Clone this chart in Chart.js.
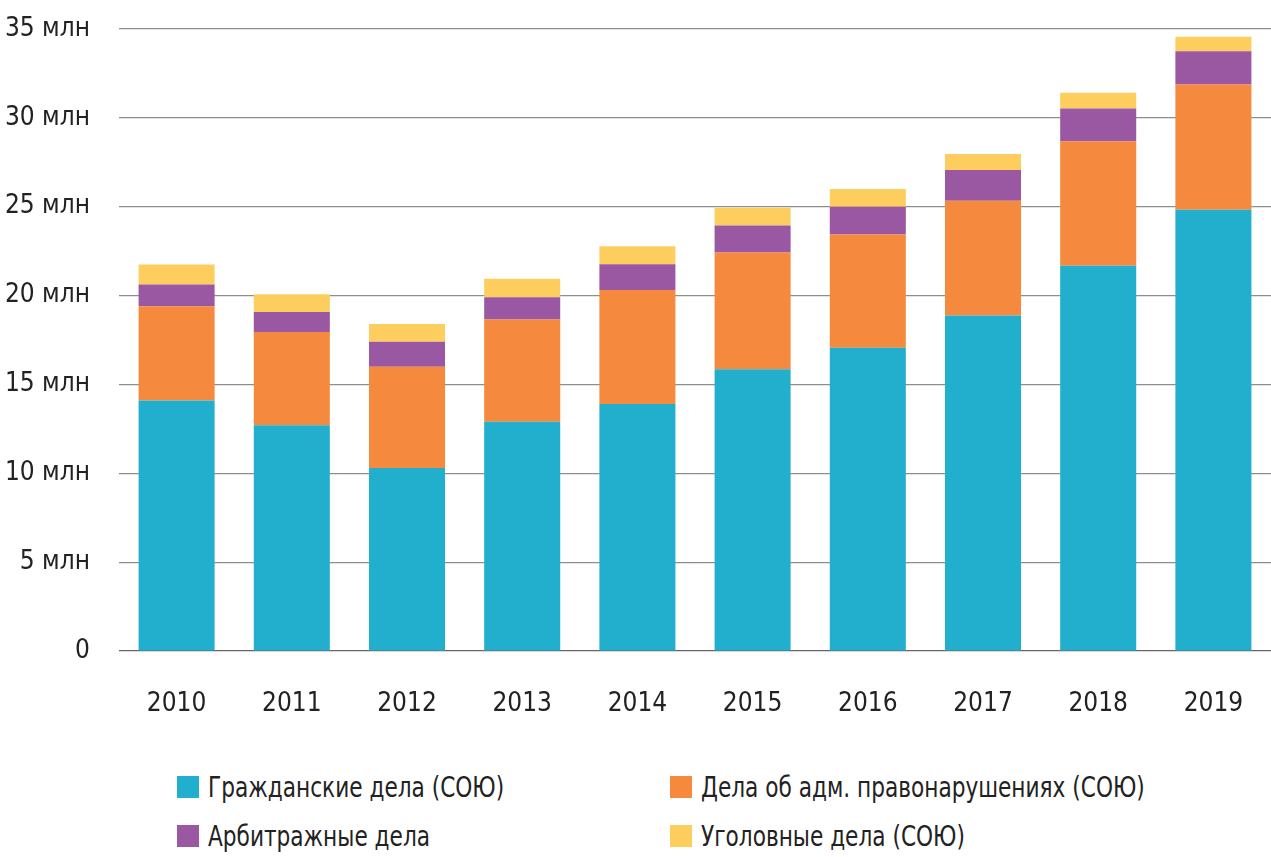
<!DOCTYPE html>
<html lang="ru">
<head>
    <meta charset="UTF-8">
    <title>Дела по годам</title>
    <style>
        body {
            margin: 0;
            padding: 0;
            background: #fff;
            font-family: 'Liberation Sans Narrow', 'DejaVu Sans Condensed', Roboto, sans-serif;
            overflow: hidden;
        }
        .wrap {
            position: relative;
            width: 1271px;
            height: 857px;
        }
        .chart-box {
            position: absolute;
            left: 0;
            top: 0;
            width: 1271px;
            height: 741px;
        }
        #legend {
            position: absolute;
            left: 177px;
            top: 773px;
            width: 1090px;
            display: grid;
            grid-template-columns: 493px auto;
            row-gap: 21px;
            color: #222;
            font-size: 29px;
            font-stretch: condensed;
        }
        #legend .item {
            display: flex;
            align-items: center;
            height: 28px;
            white-space: nowrap;
        }
        #legend .box {
            width: 22px;
            height: 22px;
            margin-right: 9px;
            flex: none;
        }
        #legend .txt {
            display: inline-block;
            transform: scaleX(0.83);
            transform-origin: left center;
        }
    </style>
</head>
<body>
<div class="wrap">
    <div class="chart-box"><canvas id="chart"></canvas></div>
    <div id="legend"></div>
</div>
<script src="https://cdn.jsdelivr.net/npm/chart.js@4/dist/chart.umd.min.js"></script>
<script>
    const years = ['2010', '2011', '2012', '2013', '2014', '2015', '2016', '2017', '2018', '2019'];
    // млн дел
    const civil = [14.1, 12.7, 10.3, 12.9, 13.9, 15.85, 17.07, 18.88, 21.68, 24.83];
    const admin = [5.3, 5.25, 5.7, 5.75, 6.42, 6.58, 6.37, 6.46, 7.0, 7.05];
    const arbitr = [1.23, 1.12, 1.4, 1.25, 1.44, 1.51, 1.56, 1.73, 1.84, 1.87];
    const criminal = [1.12, 1.0, 1.0, 1.04, 1.01, 1.0, 1.0, 0.89, 0.89, 0.82];
    const seriesNames = ['Гражданские дела (СОЮ)', 'Дела об адм. правонарушениях (СОЮ)', 'Арбитражные дела', 'Уголовные дела (СОЮ)'];
    const yTicks = [0, 5, 10, 15, 20, 25, 30, 35];

    const colors = ['#21afcd', '#f5893d', '#9a57a2', '#fdce5d'];
    const fontFamily = "'Liberation Sans Narrow', 'DejaVu Sans Condensed', Roboto, sans-serif";

    const htmlLegend = {
        id: 'htmlLegend',
        afterUpdate(chart) {
            const box = document.getElementById('legend');
            box.innerHTML = '';
            chart.data.datasets.forEach(ds => {
                const item = document.createElement('div');
                item.className = 'item';
                const sw = document.createElement('span');
                sw.className = 'box';
                sw.style.background = ds.backgroundColor;
                const txt = document.createElement('span');
                txt.className = 'txt';
                txt.textContent = ds.label;
                item.appendChild(sw);
                item.appendChild(txt);
                box.appendChild(item);
            });
        }
    };

    // узкий шрифт для подписей осей, если есть
    const narrowText = {
        id: 'narrowText',
        beforeDraw(chart) {
            chart.ctx.fontStretch = 'condensed';
        }
    };

    const ctx = document.getElementById('chart').getContext('2d');
    new Chart(ctx, {
        type: 'bar',
        data: {
            labels: years,
            datasets: [civil, admin, arbitr, criminal].map((d, i) => ({
                label: seriesNames[i],
                data: d,
                backgroundColor: colors[i],
                borderWidth: 0,
                categoryPercentage: 0.66,
                barPercentage: 1
            }))
        },
        options: {
            responsive: true,
            maintainAspectRatio: false,
            animation: false,
            layout: {
                padding: { top: 29, right: 0, bottom: 0, left: 0 }
            },
            plugins: {
                legend: { display: false },
                tooltip: { enabled: false }
            },
            scales: {
                x: {
                    stacked: true,
                    grid: { display: false, drawTicks: false },
                    border: { display: false },
                    afterFit(scale) {
                        scale.height = 90;
                        scale.paddingLeft = 0;
                        scale.paddingRight = 0;
                    },
                    ticks: {
                        color: '#222',
                        padding: 38,
                        font: { family: fontFamily, size: 26 }
                    }
                },
                y: {
                    stacked: true,
                    min: 0,
                    max: 35,
                    afterBuildTicks(scale) {
                        scale.ticks = yTicks.map(v => ({ value: v }));
                    },
                    afterFit(scale) {
                        scale.width = 119;
                        scale.paddingTop = 0;
                        scale.paddingBottom = 0;
                    },
                    grid: {
                        drawTicks: false,
                        color: ctx => ctx.tick && ctx.tick.value === 0 ? '#666' : '#8e8e8e',
                        lineWidth: 1.2
                    },
                    border: { display: false },
                    ticks: {
                        color: '#222',
                        padding: 29,
                        font: { family: fontFamily, size: 26 },
                        callback: v => v === 0 ? '0' : v + ' млн'
                    }
                }
            }
        },
        plugins: [narrowText, htmlLegend]
    });
</script>
</body>
</html>
